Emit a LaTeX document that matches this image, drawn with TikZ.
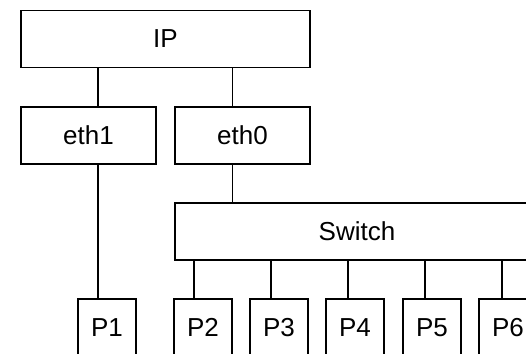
\documentclass[tikz,border=0pt]{standalone}
\usepackage{fontspec}
\setmainfont{Liberation Sans}
\begin{document}
\begin{tikzpicture}[x=1pt, y=-1pt, line width=1.8pt,
		main/.style = {draw, rectangle, inner sep=0pt, minimum height=57pt, font=\fontsize{26}{30}\selectfont},
		port/.style = {main, minimum width=58pt}]

		\useasboundingbox (0,0) rectangle (526,353);
		\clip (0,0) rectangle (526,353);

		\node[main, minimum width=289pt] (ip) at (165.5,39) {IP};
		\node[main, minimum width=135pt] (eth1) at (88.5,135.5) {eth1};
		\node[main, minimum width=135pt] (eth0) at (242.5,135.5) {eth0};
		\node[main, minimum width=364pt] (sw) at (357,231.5) {Switch};

		\node[port] (p1) at (107,327.5) {P1};
		\node[port] (p2) at (203,327.5) {P2};
		\node[port] (p3) at (279,327.5) {P3};
		\node[port] (p4) at (355,327.5) {P4};
		\node[port] (p5) at (432,327.5) {P5};
		\node[port] (p6) at (508,327.5) {P6};

		% the links leave each box off centre
		\coordinate (l1) at (98,0);
		\coordinate (l0) at (232.5,0);

		\draw (ip.south -| l1) -- (eth1.north -| l1);
		\draw (ip.south -| l0) -- (eth0.north -| l0);
		\draw (eth1.south -| l1) -- (p1.north -| l1);
		\draw (eth0.south -| l0) -- (sw.north -| l0);

		\draw (sw.south -| 194,0) -- (p2.north -| 194,0);
		\draw (sw.south -| 271,0) -- (p3.north -| 271,0);
		\draw (sw.south -| 348,0) -- (p4.north -| 348,0);
		\draw (sw.south -| 425,0) -- (p5.north -| 425,0);
		\draw (sw.south -| 502,0) -- (p6.north -| 502,0);
	\end{tikzpicture}
\end{document}
